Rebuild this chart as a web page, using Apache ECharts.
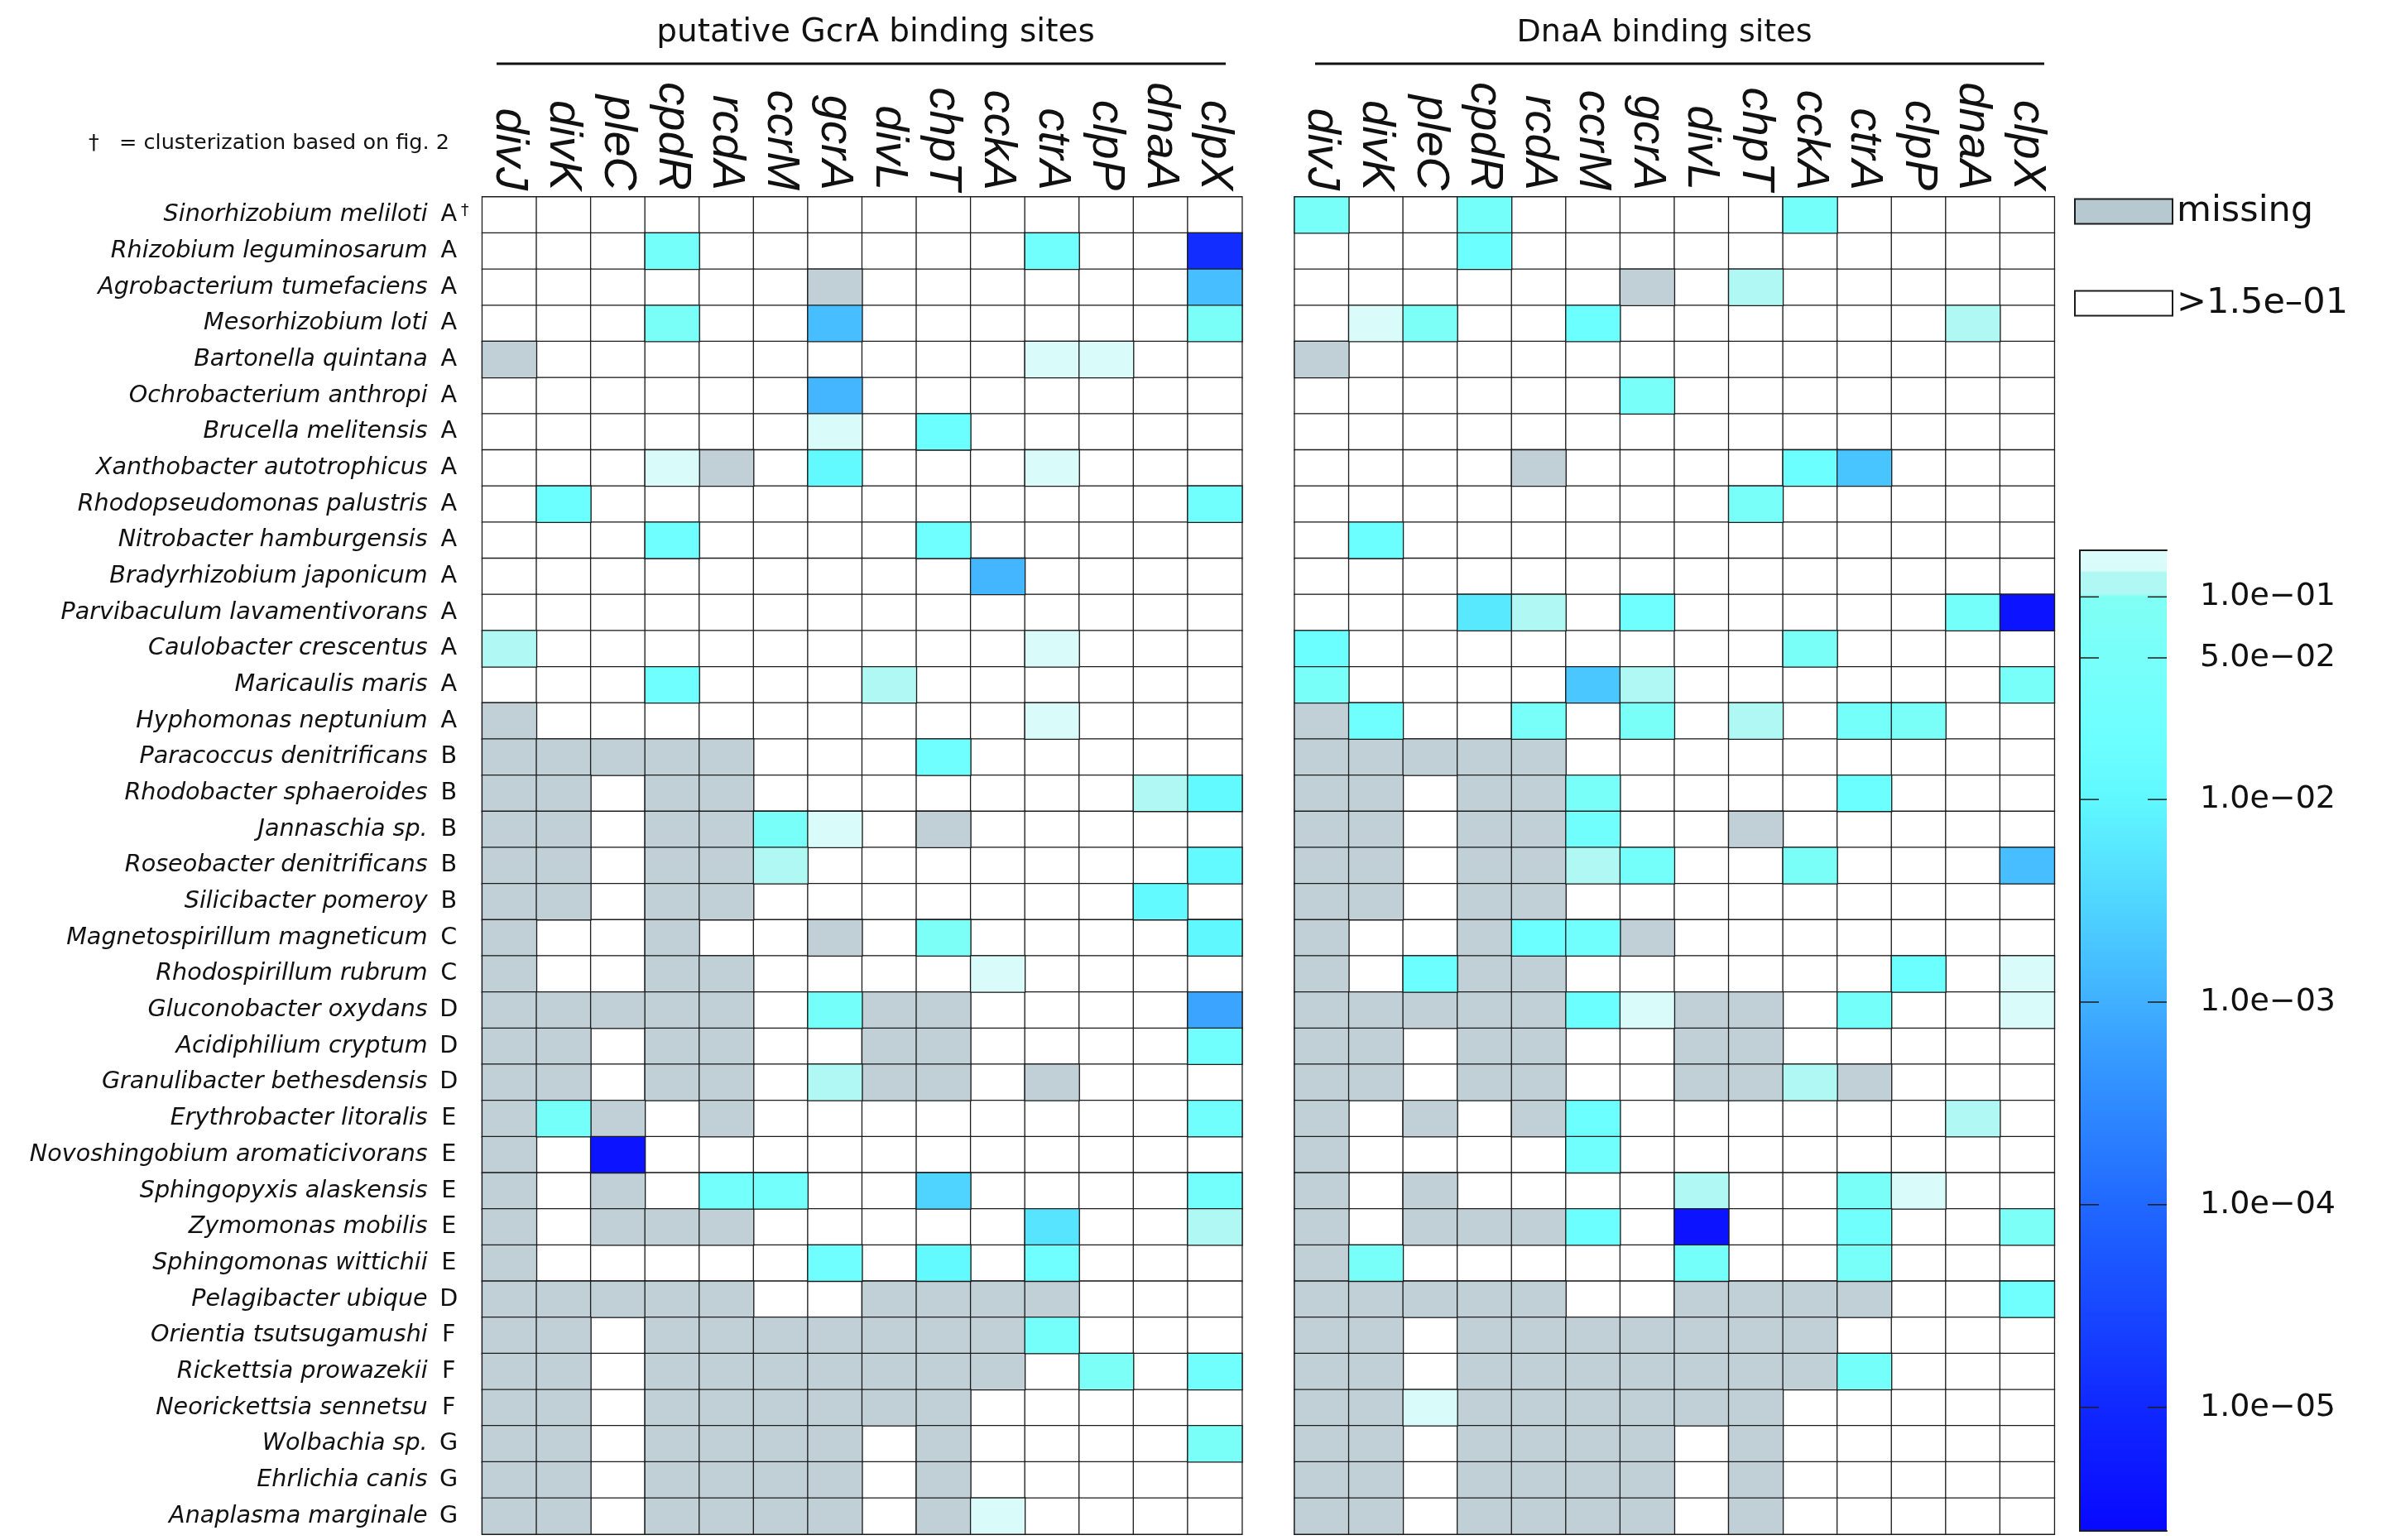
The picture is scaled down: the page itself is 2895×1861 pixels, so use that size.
<!DOCTYPE html>
<html>
<head>
<meta charset="utf-8">
<script src="https://cdn.jsdelivr.net/npm/echarts@6/dist/echarts.min.js"></script>
<style>
  html, body { margin: 0; padding: 0; background: #fff; }
  #chart { width: 2895px; height: 1861px; }
</style>
</head>
<body>
<div id="chart"></div>
<script>
// M = gene missing, W = p-value above the 1.5e-01 cutoff
const M = null;
const W = 1;
const CUTOFF = 0.15;

const genes = ['divJ', 'divK', 'pleC', 'cpdR', 'rcdA', 'ccrM', 'gcrA', 'divL', 'chpT', 'cckA', 'ctrA', 'clpP', 'dnaA', 'clpX'];

const species = [
  'Sinorhizobium meliloti', 'Rhizobium leguminosarum', 'Agrobacterium tumefaciens', 'Mesorhizobium loti',
  'Bartonella quintana', 'Ochrobacterium anthropi', 'Brucella melitensis', 'Xanthobacter autotrophicus',
  'Rhodopseudomonas palustris', 'Nitrobacter hamburgensis', 'Bradyrhizobium japonicum', 'Parvibaculum lavamentivorans',
  'Caulobacter crescentus', 'Maricaulis maris', 'Hyphomonas neptunium', 'Paracoccus denitrificans',
  'Rhodobacter sphaeroides', 'Jannaschia sp.', 'Roseobacter denitrificans', 'Silicibacter pomeroy',
  'Magnetospirillum magneticum', 'Rhodospirillum rubrum', 'Gluconobacter oxydans', 'Acidiphilium cryptum',
  'Granulibacter bethesdensis', 'Erythrobacter litoralis', 'Novoshingobium aromaticivorans', 'Sphingopyxis alaskensis',
  'Zymomonas mobilis', 'Sphingomonas wittichii', 'Pelagibacter ubique', 'Orientia tsutsugamushi',
  'Rickettsia prowazekii', 'Neorickettsia sennetsu', 'Wolbachia sp.', 'Ehrlichia canis', 'Anaplasma marginale'
];

const clades = [
  'A', 'A', 'A', 'A', 'A', 'A', 'A', 'A', 'A', 'A', 'A', 'A', 'A', 'A', 'A',
  'B', 'B', 'B', 'B', 'B', 'C', 'C', 'D', 'D', 'D', 'E', 'E', 'E', 'E', 'E',
  'D', 'F', 'F', 'F', 'G', 'G', 'G'
];
const daggerRow = 0;

// putative GcrA binding sites, p-values per species (rows) and gene (columns)
const gcrASites = [
  [W, W, W, W, W, W, W, W, W, W, W, W, W, W],
  [W, W, W, 0.04, W, W, W, W, W, W, 0.03, W, W, 1.2e-5],
  [W, W, W, W, W, W, M, W, W, W, W, W, W, 0.0015],
  [W, W, W, 0.06, W, W, 0.0015, W, W, W, W, W, W, 0.06],
  [M, W, W, W, W, W, W, W, W, W, 0.14, 0.14, W, W],
  [W, W, W, W, W, W, 0.0012, W, W, W, W, W, W, W],
  [W, W, W, W, W, W, 0.14, W, 0.02, W, W, W, W, W],
  [W, W, W, 0.14, M, W, 0.012, W, W, W, 0.14, W, W, W],
  [W, 0.02, W, W, W, W, W, W, W, W, W, W, W, 0.03],
  [W, W, W, 0.025, W, W, W, W, 0.025, W, W, W, W, W],
  [W, W, W, W, W, W, W, W, W, 0.0012, W, W, W, W],
  [W, W, W, W, W, W, W, W, W, W, W, W, W, W],
  [0.11, W, W, W, W, W, W, W, W, W, 0.14, W, W, W],
  [W, W, W, 0.025, W, W, W, 0.11, W, W, W, W, W, W],
  [M, W, W, W, W, W, W, W, W, W, 0.14, W, W, W],
  [M, M, M, M, M, W, W, W, 0.025, W, W, W, W, W],
  [M, M, W, M, M, W, W, W, W, W, W, W, 0.11, 0.012],
  [M, M, W, M, M, 0.05, 0.14, W, M, W, W, W, W, W],
  [M, M, W, M, M, 0.11, W, W, W, W, W, W, W, 0.012],
  [M, M, W, M, M, W, W, W, W, W, W, W, 0.012, W],
  [M, W, W, M, W, W, M, W, 0.07, W, W, W, W, 0.01],
  [M, W, W, M, M, W, W, W, W, 0.14, W, W, W, W],
  [M, M, M, M, M, W, 0.04, M, M, W, W, W, W, 0.0007],
  [M, M, W, M, M, W, W, M, M, W, W, W, W, 0.03],
  [M, M, W, M, M, W, 0.11, M, M, W, M, W, W, W],
  [M, 0.04, M, W, M, W, W, W, W, W, W, W, W, 0.03],
  [M, W, 4e-6, W, W, W, W, W, W, W, W, W, W, W],
  [M, W, M, W, 0.035, 0.035, W, W, 0.003, W, W, W, W, 0.035],
  [M, W, M, M, M, W, W, W, W, W, 0.005, W, W, 0.11],
  [M, W, W, W, W, W, 0.025, W, 0.012, W, 0.025, W, W, W],
  [M, M, M, M, M, W, W, M, M, M, M, W, W, W],
  [M, M, W, M, M, M, M, M, M, M, 0.04, W, W, W],
  [M, M, W, M, M, M, M, M, M, M, W, 0.07, W, 0.03],
  [M, M, W, M, M, M, M, M, M, W, W, W, W, W],
  [M, M, W, M, M, M, M, W, M, W, W, W, W, 0.06],
  [M, M, W, M, M, M, M, W, M, W, W, W, W, W],
  [M, M, W, M, M, M, M, W, M, 0.14, W, W, W, W]
];

// DnaA binding sites
const dnaASites = [
  [0.05, W, W, 0.04, W, W, W, W, W, 0.04, W, W, W, W],
  [W, W, W, 0.02, W, W, W, W, W, W, W, W, W, W],
  [W, W, W, W, W, W, M, W, 0.11, W, W, W, W, W],
  [W, 0.14, 0.07, W, W, 0.02, W, W, W, W, W, W, 0.11, W],
  [M, W, W, W, W, W, W, W, W, W, W, W, W, W],
  [W, W, W, W, W, W, 0.05, W, W, W, W, W, W, W],
  [W, W, W, W, W, W, W, W, W, W, W, W, W, W],
  [W, W, W, W, M, W, W, W, W, 0.02, 0.0018, W, W, W],
  [W, W, W, W, W, W, W, W, 0.05, W, W, W, W, W],
  [W, 0.02, W, W, W, W, W, W, W, W, W, W, W, W],
  [W, W, W, W, W, W, W, W, W, W, W, W, W, W],
  [W, W, W, 0.006, 0.11, W, 0.025, W, W, W, W, W, 0.04, 4e-6],
  [0.02, W, W, W, W, W, W, W, W, 0.06, W, W, W, W],
  [0.05, W, W, W, W, 0.002, 0.11, W, W, W, W, W, W, 0.05],
  [M, 0.025, W, W, 0.05, W, 0.06, W, 0.11, W, 0.04, 0.06, W, W],
  [M, M, M, M, M, W, W, W, W, W, W, W, W, W],
  [M, M, W, M, M, 0.05, W, W, W, W, 0.02, W, W, W],
  [M, M, W, M, M, 0.03, W, W, M, W, W, W, W, W],
  [M, M, W, M, M, 0.11, 0.04, W, W, 0.06, W, W, W, 0.0015],
  [M, M, W, M, M, W, W, W, W, W, W, W, W, W],
  [M, W, W, M, 0.02, 0.03, M, W, W, W, W, W, W, W],
  [M, W, 0.02, M, M, W, W, W, W, W, W, 0.02, W, 0.14],
  [M, M, M, M, M, 0.02, 0.14, M, M, W, 0.04, W, W, 0.14],
  [M, M, W, M, M, W, W, M, M, W, W, W, W, W],
  [M, M, W, M, M, W, W, M, M, 0.11, M, W, W, W],
  [M, W, M, W, M, 0.02, W, W, W, W, W, W, 0.11, W],
  [M, W, W, W, W, 0.03, W, W, W, W, W, W, W, W],
  [M, W, M, W, W, W, W, 0.11, W, W, 0.06, 0.14, W, W],
  [M, W, M, M, M, 0.02, W, 4e-6, W, W, 0.03, W, W, 0.07],
  [M, 0.05, W, W, W, W, W, 0.04, W, W, 0.05, W, W, W],
  [M, M, M, M, M, W, W, M, M, M, M, W, W, 0.03],
  [M, M, W, M, M, M, M, M, M, M, W, W, W, W],
  [M, M, W, M, M, M, M, M, M, M, 0.04, W, W, W],
  [M, M, 0.14, M, M, M, M, M, M, W, W, W, W, W],
  [M, M, W, M, M, M, M, W, M, W, W, W, W, W],
  [M, M, W, M, M, M, M, W, M, W, W, W, W, W],
  [M, M, W, M, M, M, M, W, M, W, W, W, W, W]
];

const colorbarTicks = [1e-1, 5e-2, 1e-2, 1e-3, 1e-4, 1e-5];
const colorbarLabels = ['1.0e\u221201', '5.0e\u221202', '1.0e\u221202', '1.0e\u221203', '1.0e\u221204', '1.0e\u221205'];
const LOG_MIN = -5.61;
const LOG_MAX = -0.77;

// colour scale, log10(p) -> colour
const colorStops = [
  [-5.61, '#0808ff'], [-5.0, '#1028ff'], [-4.0, '#2068ff'], [-3.2, '#38a0ff'],
  [-3.0, '#40b0ff'], [-2.5, '#50d6ff'], [-2.0, '#60f8ff'], [-1.7, '#6cffff'],
  [-1.3, '#78fffa'], [-1.0, '#80fff4'], [-0.985, '#b0f8f4'], [-0.88, '#b0f8f4'],
  [-0.875, '#d8fcfa'], [-0.77, '#dcfcfa']
];

function hex2rgb(h) {
  return [parseInt(h.slice(1, 3), 16), parseInt(h.slice(3, 5), 16), parseInt(h.slice(5, 7), 16)];
}
function sampleColor(v) {
  for (let i = 1; i < colorStops.length; i++) {
    if (v <= colorStops[i][0]) {
      const a = colorStops[i - 1], b = colorStops[i];
      const t = (v - a[0]) / (b[0] - a[0]);
      const ca = hex2rgb(a[1]), cb = hex2rgb(b[1]);
      const c = ca.map((x, k) => Math.round(x + (cb[k] - x) * t));
      return 'rgb(' + c.join(',') + ')';
    }
  }
  return colorStops[colorStops.length - 1][1];
}
const rampColors = [];
for (let v = LOG_MIN; v <= LOG_MAX + 1e-9; v += 0.01) rampColors.push(sampleColor(v));

const cellBorder = { borderColor: '#1c1c1c', borderWidth: 1.3 };
const txt = '#111';

function panelSeries(matrix, idx) {
  const all = [], missing = [], sig = [];
  matrix.forEach(function (row, r) {
    row.forEach(function (p, c) {
      all.push([c, r, 0]);
      if (p === M) missing.push([c, r, 0]);
      else if (p <= CUTOFF) sig.push([c, r, Math.log10(p)]);
    });
  });
  const base = { type: 'heatmap', xAxisIndex: idx, yAxisIndex: idx, emphasis: { disabled: true }, silent: true };
  return [
    Object.assign({}, base, { name: '>1.5e\u201301', data: all, itemStyle: Object.assign({ color: '#ffffff' }, cellBorder) }),
    Object.assign({}, base, { name: 'missing', data: missing, itemStyle: Object.assign({ color: '#c1d0d7' }, cellBorder) }),
    Object.assign({}, base, { name: 'p-value', data: sig, itemStyle: Object.assign({}, cellBorder) })
  ];
}

const panelTop = 238, panelH = 1616, panelW = 918;
const panelLeft = [582.7, 1564.2];

function geneAxis(idx) {
  return {
    type: 'category', gridIndex: idx, data: genes, position: 'top',
    axisLine: { show: false }, axisTick: { show: false }, splitLine: { show: false },
    axisLabel: {
      interval: 0, rotate: 90, margin: 8, color: txt,
      fontFamily: 'Liberation Sans', fontStyle: 'italic', fontSize: 56
    }
  };
}

function speciesAxis(idx, showLabels) {
  return {
    type: 'category', gridIndex: idx, data: species, inverse: true,
    axisLine: { show: false }, axisTick: { show: false }, splitLine: { show: false },
    axisLabel: {
      show: showLabels, interval: 0, margin: 12,
      formatter: function (value, index) {
        const mark = index === daggerRow ? '\u2020' : ' ';
        return '{n|' + value + '}{c|' + clades[index] + '}{s|' + mark + '}';
      },
      rich: {
        n: { fontFamily: 'DejaVu Sans', fontStyle: 'italic', fontSize: 28.6, color: txt },
        c: { fontFamily: 'DejaVu Sans', fontSize: 28.6, color: txt, width: 21, align: 'left', padding: [0, 0, 0, 15] },
        s: { fontFamily: 'DejaVu Sans', fontSize: 19, color: txt, width: 18, align: 'left', verticalAlign: 'top', padding: [0, 0, 0, 0] }
      }
    }
  };
}

function tickLabel(v) {
  for (let i = 0; i < colorbarTicks.length; i++) {
    if (Math.abs(Math.log10(colorbarTicks[i]) - v) < 1e-6) return colorbarLabels[i];
  }
  return '';
}
const tickLogs = colorbarTicks.map(function (t) { return Math.log10(t); });

const bar = { left: 2513, top: 665, width: 105, height: 1185 };
const frameLine = { show: true, lineStyle: { color: '#1c1c1c', width: 2 } };

// colour bar fill, bottom (LOG_MIN) to top (LOG_MAX)
const barGradient = new echarts.graphic.LinearGradient(0, 1, 0, 0,
  rampColors.map(function (c, i) { return { offset: i / (rampColors.length - 1), color: c }; }));

const option = {
  backgroundColor: '#fff',
  animation: false,
  grid: [
    { left: panelLeft[0], top: panelTop, width: panelW, height: panelH, outerBoundsMode: 'none' },
    { left: panelLeft[1], top: panelTop, width: panelW, height: panelH, outerBoundsMode: 'none' },
    { left: bar.left, top: bar.top, width: bar.width, height: bar.height, outerBoundsMode: 'none',
      show: true, backgroundColor: barGradient, borderWidth: 0 }
  ],
  xAxis: [
    geneAxis(0),
    geneAxis(1),
    { type: 'value', gridIndex: 2, position: 'bottom', min: 0, max: 1, z: 10, axisLine: frameLine, axisTick: { show: false }, axisLabel: { show: false }, splitLine: { show: false } },
    { type: 'value', gridIndex: 2, position: 'top', min: 0, max: 1, z: 10, axisLine: frameLine, axisTick: { show: false }, axisLabel: { show: false }, splitLine: { show: false } }
  ],
  yAxis: [
    speciesAxis(0, true),
    speciesAxis(1, false),
    {
      type: 'value', gridIndex: 2, position: 'left', min: LOG_MIN, max: LOG_MAX, z: 10,
      axisLine: frameLine, splitLine: { show: false }, axisTick: { show: false },
      axisLabel: { show: false }
    },
    {
      type: 'value', gridIndex: 2, position: 'right', min: LOG_MIN, max: LOG_MAX, z: 10,
      axisLine: frameLine, splitLine: { show: false }, axisTick: { show: false },
      axisLabel: {
        show: true, margin: 40, customValues: tickLogs, formatter: tickLabel,
        fontFamily: 'DejaVu Sans', fontSize: 38, color: txt
      }
    }
  ],
  visualMap: {
    type: 'continuous', show: false, seriesIndex: [2, 5], dimension: 2,
    min: LOG_MIN, max: LOG_MAX, inRange: { color: rampColors }
  },
  legend: {
    data: [
      { name: 'missing', itemStyle: { color: '#b7c9d0' } },
      { name: '>1.5e\u201301', itemStyle: { color: '#ffffff' } }
    ],
    orient: 'vertical', left: 2506, top: 234, padding: 0,
    itemWidth: 118, itemHeight: 30, itemGap: 68, icon: 'rect', selectedMode: false,
    itemStyle: { borderColor: '#1c1c1c', borderWidth: 2 },
    textStyle: { fontFamily: 'DejaVu Sans', fontSize: 43, lineHeight: 42, color: txt }
  },
  graphic: [
    { id: 'title0', type: 'text', x: 1058, y: 40, style: { text: 'putative GcrA binding sites', font: '39px "DejaVu Sans"', fill: txt, align: 'center', verticalAlign: 'middle' } },
    { id: 'title1', type: 'text', x: 2011, y: 40, style: { text: 'DnaA binding sites', font: '38px "DejaVu Sans"', fill: txt, align: 'center', verticalAlign: 'middle' } },
    { id: 'rule0', type: 'line', shape: { x1: 600, y1: 77, x2: 1481, y2: 77 }, style: { stroke: txt, lineWidth: 3 } },
    { id: 'rule1', type: 'line', shape: { x1: 1589, y1: 77, x2: 2470, y2: 77 }, style: { stroke: txt, lineWidth: 3 } },
    { id: 'note', type: 'text', x: 107, y: 173, style: { text: '\u2020   = clusterization based on fig. 2', font: '25.5px "DejaVu Sans"', fill: txt, align: 'left', verticalAlign: 'middle' } }
  ],
  series: panelSeries(gcrASites, 0).concat(panelSeries(dnaASites, 1))
};

const chart = echarts.init(document.getElementById('chart'), null, { renderer: 'canvas' });
chart.setOption(option);

// short inward ticks on both edges of the colour bar, placed with the bar's own axis scale
const tickMarks = [];
tickLogs.forEach(function (v, i) {
  const y = chart.convertToPixel({ yAxisIndex: 2 }, v);
  const line = { stroke: '#1c1c1c', lineWidth: 1.5 };
  tickMarks.push({ id: 'tickL' + i, type: 'line', z: 20, shape: { x1: bar.left, y1: y, x2: bar.left + 23, y2: y }, style: line });
  tickMarks.push({ id: 'tickR' + i, type: 'line', z: 20, shape: { x1: bar.left + bar.width - 23, y1: y, x2: bar.left + bar.width, y2: y }, style: line });
});
chart.setOption({ graphic: tickMarks });
</script>
</body>
</html>
